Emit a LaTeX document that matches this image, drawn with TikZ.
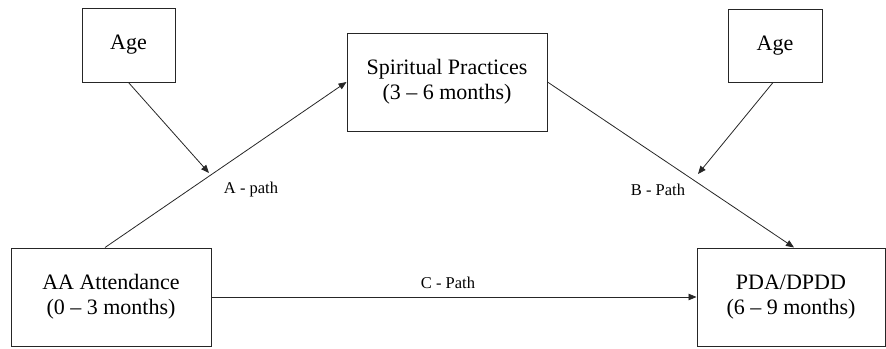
\documentclass[tikz,border=0pt]{standalone}
\usepackage{fontspec}
\setmainfont{Liberation Serif}
\usetikzlibrary{arrows.meta,calc}
\begin{document}
\begin{tikzpicture}[x=1pt,y=-1pt,
  box/.style={draw=black!85,line width=1pt,align=center,font=\fontsize{22}{25}\selectfont,inner sep=0pt},
  conn/.style={draw=black!85,line width=0.8pt,-{Triangle[length=8pt,width=6.5pt]}},
  lbl/.style={font=\fontsize{16.5}{19}\selectfont,inner sep=0pt}]
\useasboundingbox (0,0) rectangle (886,348);
\node[box,minimum width=93pt,minimum height=74pt] (ageL) at (128.5,45) {Age};
\node[box,minimum width=200pt,minimum height=98pt] (sp) at (447,82) {Spiritual Practices\\(3 – 6 months)};
\node[box,minimum width=94pt,minimum height=73pt] (ageR) at (775,45.5) {Age};
\node[box,minimum width=200pt,minimum height=98pt] (aa) at (111,297) {AA Attendance\\(0 – 3 months)};
\node[box,minimum width=188pt,minimum height=98pt] (pda) at (791,297) {PDA/DPDD\\(6 – 9 months)};
\coordinate (mA) at (209,173);
\coordinate (mB) at (698,174);
\draw[conn] ([xshift=-6pt]aa.north) -- (sp.west);
\draw[conn] (sp.east) -- ([xshift=3pt]pda.north);
\draw[conn] (aa.east) -- (pda.west);
\draw[conn] (ageL.south) -- (mA);
\draw[conn] ([xshift=-2pt]ageR.south) -- (mB);
\node[lbl] (la) at (251,190) {A - path};
\node[lbl] (lb) at (658,190) {B - Path};
\node[lbl] (lc) at (448,283) {C - Path};
\end{tikzpicture}
\end{document}
